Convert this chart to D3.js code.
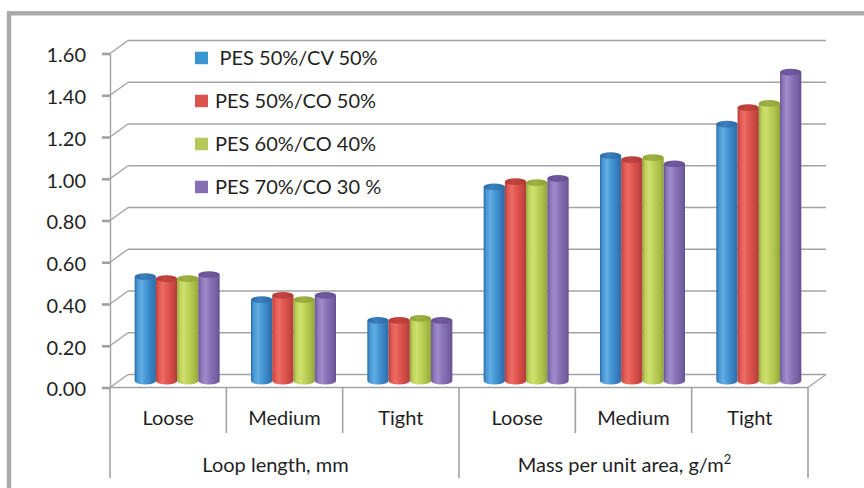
<!DOCTYPE html>
<html>
<head>
<meta charset="utf-8">
<script src="https://cdn.jsdelivr.net/npm/d3@7"></script>
<style>
  html, body { margin: 0; padding: 0; background: #ffffff; }
  svg { display: block; font-family: Lato, "Open Sans", sans-serif; }
  text { fill: #1f1f1f; }
</style>
</head>
<body>
<svg id="chart" width="864" height="488"></svg>
<script>
// ---- data ----
const categories = ["Loose", "Medium", "Tight", "Loose", "Medium", "Tight"];
const groupLabels = ["Loop length, mm", "Mass per unit area, g/m"];
const groupSuperscripts = ["", "2"];
const seriesNames = ["PES 50%/CV 50%", "PES 50%/CO 50%", "PES 60%/CO 40%", "PES 70%/CO 30 %"];
const pes50cv50 = [0.50, 0.39, 0.29, 0.93, 1.08, 1.23];
const pes50co50 = [0.49, 0.41, 0.29, 0.955, 1.06, 1.31];
const pes60co40 = [0.49, 0.39, 0.30, 0.95, 1.07, 1.33];
const pes70co30 = [0.51, 0.41, 0.29, 0.97, 1.04, 1.48];
const yTicks = [0, 0.2, 0.4, 0.6, 0.8, 1.0, 1.2, 1.4, 1.6];

const seriesValues = [pes50cv50, pes50co50, pes60co40, pes70co30];

// cylinder shading: [dark edge, highlight, body, right shade, top cap]
const palette = [
  { key: "#3a95d0", dark: "#2b6aa6", light: "#62ade3", mid: "#4596d4", right: "#3479ba", cap: "#3b7fbd" },
  { key: "#d9534f", dark: "#b33a36", light: "#ec6c66", mid: "#e0564f", right: "#c54541", cap: "#c4433f" },
  { key: "#b5c95a", dark: "#8fa236", light: "#cfe06e", mid: "#bdd159", right: "#a4b844", cap: "#9fb142" },
  { key: "#8470b0", dark: "#664f92", light: "#a08ccb", mid: "#8a74b8", right: "#7660a4", cap: "#72599f" }
];

// ---- layout ----
const svg = d3.select("#chart");
const depthX = 18, depthY = 13;         // offset of the back wall
const x0 = 110, x1 = 808;               // front edge of the floor
const y = d3.scaleLinear().domain([0, 1.6]).range([387.5, 53.5]);
const x = d3.scaleBand().domain(d3.range(categories.length)).range([x0, x1]);
const groupWidth = 85;
const xs = d3.scaleBand().domain(d3.range(seriesNames.length)).range([0, groupWidth]);
const gridColor = "#a3a3a3";

// outer frame
svg.append("rect")
  .attr("x", 9).attr("y", 13.3)
  .attr("width", 900).attr("height", 600)
  .attr("fill", "none").attr("stroke", "#a9a9a9").attr("stroke-width", 4.4);

// gradients
const defs = svg.append("defs");
palette.forEach((c, i) => {
  const g = defs.append("linearGradient").attr("id", "body" + i)
    .attr("x1", "0").attr("x2", "1").attr("y1", "0").attr("y2", "0");
  [[0, c.dark], [0.12, c.mid], [0.32, c.light], [0.55, c.mid], [0.85, c.right], [1, c.dark]]
    .forEach(([o, col]) => g.append("stop").attr("offset", o).attr("stop-color", col));
  const t = defs.append("linearGradient").attr("id", "cap" + i)
    .attr("x1", "0").attr("x2", "1").attr("y1", "0").attr("y2", "0");
  [[0, c.dark], [0.4, c.cap], [1, c.dark]]
    .forEach(([o, col]) => t.append("stop").attr("offset", o).attr("stop-color", col));
});

// back wall gridlines and left wall diagonals
const grid = svg.append("g").attr("stroke", gridColor).attr("stroke-width", 1.4).attr("fill", "none");
yTicks.forEach(v => {
  grid.append("line")
    .attr("x1", x0 + depthX).attr("x2", x1 + depthX)
    .attr("y1", y(v) - depthY).attr("y2", y(v) - depthY);
  grid.append("line")
    .attr("x1", x0).attr("x2", x0 + depthX)
    .attr("y1", y(v)).attr("y2", y(v) - depthY);
});
// floor: front edge and right diagonal
grid.append("line").attr("x1", x0).attr("x2", x1).attr("y1", y(0)).attr("y2", y(0));
grid.append("line").attr("x1", x1).attr("x2", x1 + depthX).attr("y1", y(0)).attr("y2", y(0) - depthY);

// y axis
const yAxis = d3.axisLeft(y)
  .tickValues(yTicks)
  .tickFormat(d3.format(".2f"))
  .tickSize(8)
  .tickSizeOuter(0)
  .tickPadding(16);
const ax = svg.append("g").attr("transform", `translate(${x0},0)`).call(yAxis);
ax.select(".domain").attr("stroke", gridColor).attr("stroke-width", 1.4);
ax.selectAll(".tick line").attr("stroke", "#a0a0a0").attr("stroke-width", 2.6);
ax.selectAll(".tick text")
  .attr("font-family", "Lato, sans-serif").attr("font-size", 20)
  .attr("fill", "#1f1f1f").attr("dy", "0.42em");

// category dividers below the floor
const dividers = svg.append("g").attr("stroke", gridColor).attr("stroke-width", 1.6);
for (let i = 0; i <= categories.length; i++) {
  const xv = i < categories.length ? x(i) : x1;
  const outer = (i % 3 === 0);
  dividers.append("line")
    .attr("x1", xv).attr("x2", xv)
    .attr("y1", y(0)).attr("y2", outer ? 478 : 433);
}

// category labels
svg.append("g").selectAll("text").data(categories).join("text")
  .attr("x", (d, i) => x(i) + x.bandwidth() / 2)
  .attr("y", 425)
  .attr("text-anchor", "middle")
  .attr("font-size", 20)
  .text(d => d);

// group labels
groupLabels.forEach((lab, gi) => {
  const cx = (x(gi * 3) + (gi === 1 ? x1 : x(3))) / 2 - 9;
  const t = svg.append("text").attr("x", cx).attr("y", 471.5)
    .attr("text-anchor", "middle").attr("font-size", 20);
  t.append("tspan").text(lab);
  if (groupSuperscripts[gi]) {
    t.append("tspan").attr("font-size", 13).attr("dy", -8).text(groupSuperscripts[gi]);
  }
});

// cylinders (drawn at mid depth)
const midX = depthX / 2, midY = depthY / 2;
const ry = 3.4;
const bars = svg.append("g");
categories.forEach((c, ci) => {
  const gx = x(ci) + (x.bandwidth() - groupWidth) / 2 + midX;
  seriesValues.forEach((vals, si) => {
    const bx = gx + xs(si);
    const w = xs.bandwidth();
    const rx = w / 2;
    const yTop = y(vals[ci]) - midY;
    const yBase = y(0) - midY;
    const cx = bx + rx;
    const b = bars.append("g");
    // base half-ellipse + body
    b.append("path")
      .attr("d", `M${bx},${yTop} L${bx},${yBase} A${rx},${ry} 0 0 0 ${bx + w},${yBase} L${bx + w},${yTop} Z`)
      .attr("fill", `url(#body${si})`);
    // top cap
    b.append("ellipse")
      .attr("cx", cx).attr("cy", yTop).attr("rx", rx).attr("ry", ry)
      .attr("fill", `url(#cap${si})`);
  });
});

// legend
const legend = svg.append("g");
seriesNames.forEach((name, i) => {
  const cy = 58 + i * 43;
  legend.append("rect")
    .attr("x", 195).attr("y", cy - 6.3).attr("width", 13).attr("height", 12.5)
    .attr("fill", palette[i].key);
  legend.append("text")
    .attr("x", i === 0 ? 219.5 : 215).attr("y", cy).attr("dy", "0.36em")
    .attr("font-size", 20)
    .text(name);
});
</script>
</body>
</html>
